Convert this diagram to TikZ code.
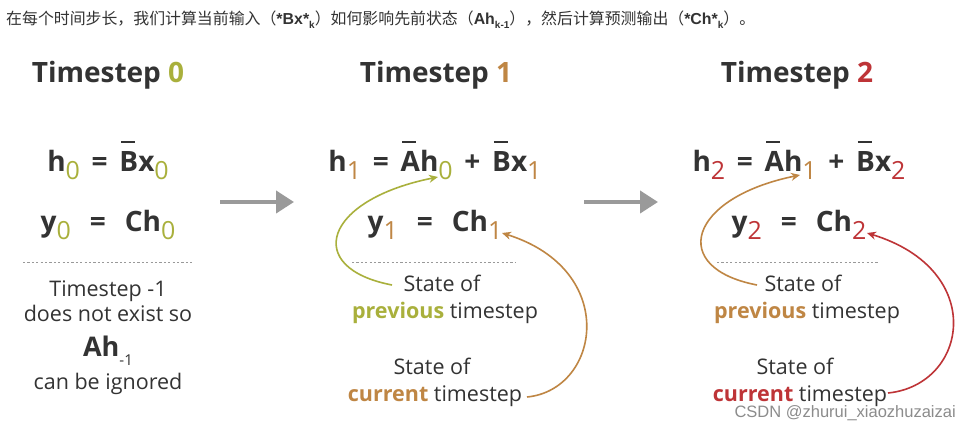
\documentclass[tikz,border=0pt]{standalone}
\usepackage{fontspec}
\setmainfont{Open Sans}
\newfontfamily\cjk{Noto Sans CJK SC}
\newfontfamily\arialf{Liberation Sans}
\usetikzlibrary{arrows.meta}
\definecolor{txt}{HTML}{333333}
\definecolor{olv}{HTML}{A9B03C}
\definecolor{brn}{HTML}{BF8644}
\definecolor{rd}{HTML}{BE3437}
\definecolor{arr}{HTML}{9A9A9A}
\definecolor{dash}{HTML}{999999}
\newcommand\sbs[2]{\raisebox{-0.27em}{\fontsize{25}{26}\mdseries\selectfont\color{#1}#2}}
\newcommand\ovl[1]{\leavevmode\rlap{\hspace{0.06em}\raisebox{1.05em}{\rule{0.5em}{0.07em}}}#1}
\newcommand\sep{\hspace{0.42em}}
\tikzset{
  title/.style={font=\fontsize{28}{30}\bfseries\selectfont, text=txt, anchor=base, inner sep=0},
  eq/.style={font=\fontsize{28}{30}\bfseries\selectfont, text=txt, anchor=base, inner sep=0},
  body/.style={font=\fontsize{21.5}{24}\selectfont, text=txt, anchor=base, inner sep=0},
  sep line/.style={draw=dash, line width=0.9pt, dash pattern=on 2.2pt off 2.2pt},
  flow/.style={draw=arr, line width=4pt, -{Triangle[length=18pt,width=22pt]}},
  link/.style={line width=1.6pt, -{Stealth[length=9pt,width=8pt]}},
}
\begin{document}
\begin{tikzpicture}[x=1pt,y=-1pt]
\useasboundingbox[fill=white] (0,0) rectangle (970,427);
% caption
\node[anchor=base west, inner sep=0, text=txt, font=\fontsize{15.9}{17}\selectfont] (cap) at (6,25)
 {\cjk 在每个时间步长，我们计算当前输入（\arialf\bfseries *Bx*\raisebox{-0.2em}{\fontsize{10}{11}\selectfont k}\cjk\mdseries ）如何影响先前状态（\arialf\bfseries Ah\raisebox{-0.2em}{\fontsize{10}{11}\selectfont k-1}\cjk\mdseries ），然后计算预测输出（\arialf\bfseries *Ch*\raisebox{-0.2em}{\fontsize{10}{11}\selectfont k}\cjk\mdseries ）。};

% titles
\node[title] (t0) at (108,83) {Timestep \textcolor{olv}{0}};
\node[title] (t1) at (436,83) {Timestep \textcolor{brn}{1}};
\node[title] (t2) at (797,83) {Timestep \textcolor{rd}{2}};

% timestep 0
\node[eq] (h0) at (108,172) {h\sbs{olv}{0}\sep=\sep\ovl{B}x\sbs{olv}{0}};
\node[eq] (y0) at (108,232) {y\sbs{olv}{0}\sep\ =\sep\ C{}h\sbs{olv}{0}};
\coordinate (d0a) at (23,262); \coordinate (d0b) at (192,262);
\draw[sep line] (d0a) -- (d0b);
\node[body] (n0a) at (108,297) {Timestep -1};
\node[body] (n0b) at (108,322) {does not exist so};
\node[eq, font=\fontsize{27}{29}\bfseries\selectfont] (n0c) at (108,357) {Ah\raisebox{-0.3em}{\fontsize{15}{16}\mdseries\selectfont -1}};
\node[body] (n0d) at (108,390) {can be ignored};

% flow arrows
\coordinate (fa1) at (220,202); \coordinate (fb1) at (294,202);
\coordinate (fa2) at (584,202); \coordinate (fb2) at (658,202);
\draw[flow] (fa1) -- (fb1);
\draw[flow] (fa2) -- (fb2);

% timestep 1
\node[eq] (h1) at (435,172) {h\sbs{brn}{1}\sep=\sep\ovl{A}h\sbs{olv}{0}\sep+\sep\ovl{B}x\sbs{brn}{1}};
\node[eq] (y1) at (435,232) {y\sbs{brn}{1}\sep\ =\sep\ C{}h\sbs{brn}{1}};
\coordinate (d1a) at (352,262); \coordinate (d1b) at (515,262);
\draw[sep line] (d1a) -- (d1b);
\node[body] (p1a) at (442,292) {State of};
\node[body] (p1b) at (445,319) {\textcolor{olv}{\bfseries previous} timestep};
\node[body] (c1a) at (432,375) {State of};
\node[body] (c1b) at (435,402) {\textcolor{brn}{\bfseries current} timestep};
\coordinate (p1s) at (392,285); \coordinate (p1e) at (438,177);
\coordinate (c1s) at (527,397); \coordinate (c1e) at (502,233);
\draw[link, olv] (p1s) .. controls (303,268) and (323,200) .. (p1e);
\draw[link, brn] (c1s) .. controls (600,390) and (620,270) .. (c1e);

% timestep 2
\node[eq] (h2) at (799,172) {h\sbs{rd}{2}\sep=\sep\ovl{A}h\sbs{brn}{1}\sep+\sep\ovl{B}x\sbs{rd}{2}};
\node[eq] (y2) at (799,232) {y\sbs{rd}{2}\sep\ =\sep\ C{}h\sbs{rd}{2}};
\coordinate (d2a) at (717,262); \coordinate (d2b) at (878,262);
\draw[sep line] (d2a) -- (d2b);
\node[body] (p2a) at (803,292) {State of};
\node[body] (p2b) at (807,319) {\textcolor{brn}{\bfseries previous} timestep};
\node[body] (c2a) at (795,375) {State of};
\node[body] (c2b) at (800,402) {\textcolor{rd}{\bfseries current} timestep};
\coordinate (p2s) at (757,285); \coordinate (p2e) at (800,175);
\coordinate (c2s) at (888,393); \coordinate (c2e) at (867,233);
\draw[link, brn] (p2s) .. controls (668,268) and (688,198) .. (p2e);
\draw[link, rd] (c2s) .. controls (968,385) and (988,270) .. (c2e);

% watermark
\node[anchor=base east, inner sep=0, text=black!45, font=\arialf\fontsize{16.5}{18}\selectfont] (wm) at (956,418) {CSDN @zhurui\_xiaozhuzaizai};
\end{tikzpicture}
\end{document}
